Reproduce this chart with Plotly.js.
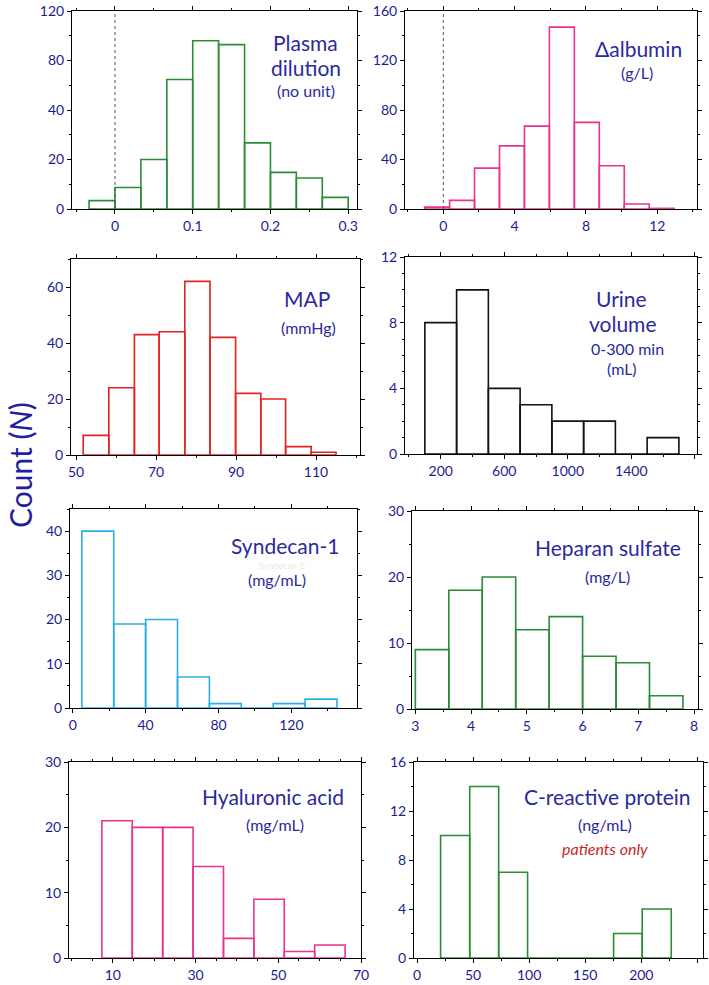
<!DOCTYPE html>
<html><head><meta charset="utf-8">
<script src="https://cdn.plot.ly/plotly-3.0.1.min.js"></script>
<style>html,body{margin:0;padding:0;background:#fff}#chart{width:709px;height:985px}</style>
</head><body><div id="chart"></div>
<script>
// ---------- DATA ----------
const plasmaEdges = [-0.0333, 0, 0.0333, 0.0667, 0.1, 0.1333, 0.1667, 0.2, 0.2333, 0.2667, 0.3];
const plasmaCounts = [3.4, 8.7, 20, 52.3, 68, 66.4, 26.7, 14.8, 12.5, 4.7];
const plasmaYTickVals = [0, 20, 40, 60, 80];
const plasmaYTickText = ['0', '20', '40', '80', '120'];

const albuminEdges = [-1.05, 0.35, 1.75, 3.15, 4.55, 5.95, 7.35, 8.75, 10.15, 11.55, 12.95];
const albuminCounts = [1.5, 7, 33, 51, 67, 147, 70, 35, 4, 0.5];

const mapEdges = [51.8, 58.2, 64.6, 70.8, 77.2, 83.5, 89.9, 96.2, 102.4, 108.8, 115.0];
const mapCounts = [7, 24, 43, 44, 62, 42, 22, 20, 3, 1];

const urineEdges = [100, 300, 500, 700, 900, 1100, 1300, 1500, 1700];
const urineCounts = [8, 10, 4, 3, 2, 2, 0, 1];

const syndecanEdges = [5, 22.5, 40, 57.5, 75, 92.5, 110, 127.5, 145];
const syndecanCounts = [40, 19, 20, 7, 1, 0, 1, 2];

const heparanEdges = [3, 3.6, 4.2, 4.8, 5.4, 6.0, 6.6, 7.2, 7.8];
const heparanCounts = [9, 18, 20, 12, 14, 8, 7, 2];

const hyaluronicEdges = [7.35, 14.7, 22.05, 29.4, 36.75, 44.1, 51.45, 58.8, 66.15];
const hyaluronicCounts = [21, 20, 20, 14, 3, 9, 1, 2];

const crpEdges = [21, 47, 72.8, 98.6, 124.2, 149.8, 175.3, 200.8, 226.7];
const crpCounts = [10, 14, 7, 0, 0, 0, 2, 4];

// ---------- STYLE / LAYOUT ----------
const W = 709, H = 985;
const GREEN = '#2b8c35', PINK = '#e8338f', RED = '#e32222', BLACK = '#111111', CYAN = '#2aaee2';
const TICKBLUE = '#1c1c92', LABELBLUE = '#2a2a9e';
const FONT = 'Lato, "Open Sans", sans-serif';

const panels = [
  {edges: plasmaEdges, counts: plasmaCounts, color: GREEN, box: [72, 11, 356.5, 209],
   xr: [-0.0553, 0.3107], xt: {tick0: 0, dtick: 0.1}, xminor: 0.05,
   yr: [0, 80], yt: {tickmode: 'array', tickvals: plasmaYTickVals, ticktext: plasmaYTickText}, yminor: 10, vline: true},
  {edges: albuminEdges, counts: albuminCounts, color: PINK, box: [405, 11, 697, 209],
   xr: [-2.15, 14.23], xt: {tick0: 0, dtick: 4}, xminor: 2,
   yr: [0, 160], yt: {tick0: 0, dtick: 40}, yminor: 20, vline: true},
  {edges: mapEdges, counts: mapCounts, color: RED, box: [71, 259, 360, 455],
   xr: [48.75, 121], xt: {tick0: 50, dtick: 20}, xminor: 10,
   yr: [0, 70], yt: {tick0: 0, dtick: 20}, yminor: 10},
  {edges: urineEdges, counts: urineCounts, color: BLACK, box: [405, 257, 697, 454],
   xr: [-25, 1814], xt: {tick0: 200, dtick: 400}, xminor: 200,
   yr: [0, 12], yt: {tick0: 0, dtick: 4}, yminor: 1},
  {edges: syndecanEdges, counts: syndecanCounts, color: CYAN, box: [70, 509, 357, 708],
   xr: [-1.5, 156], xt: {tick0: 0, dtick: 40}, xminor: 20,
   yr: [0, 45], yt: {tick0: 0, dtick: 10}, yminor: 5},
  {edges: heparanEdges, counts: heparanCounts, color: GREEN, box: [412, 511, 698, 709],
   xr: [2.94, 8.07], xt: {tick0: 3, dtick: 1}, xminor: 0.5,
   yr: [0, 30], yt: {tick0: 0, dtick: 10}, yminor: 5},
  {edges: hyaluronicEdges, counts: hyaluronicCounts, color: PINK, box: [69, 762, 361, 958],
   xr: [-0.6, 70], xt: {tick0: 10, dtick: 20}, xminor: 5,
   yr: [0, 30], yt: {tick0: 0, dtick: 10}, yminor: 5},
  {edges: crpEdges, counts: crpCounts, color: GREEN, box: [414, 762, 703, 958],
   xr: [-2.7, 255], xt: {tick0: 0, dtick: 50}, xminor: 25,
   yr: [0, 16], yt: {tick0: 0, dtick: 4}, yminor: 2}
];

const labels = [
  {t: 'Plasma', x: 305, y: 42, s: 21},
  {t: 'dilution', x: 306, y: 68, s: 21},
  {t: '(no unit)', x: 306, y: 90, s: 16},
  {t: 'Δalbumin', x: 638, y: 49, s: 21},
  {t: '(g/L)', x: 637, y: 72, s: 16},
  {t: 'MAP', x: 307, y: 299, s: 21},
  {t: '(mmHg)', x: 308, y: 327, s: 16},
  {t: 'Urine', x: 621, y: 299, s: 21},
  {t: 'volume', x: 622, y: 324, s: 21},
  {t: '0-300 min', x: 627, y: 348, s: 16},
  {t: '(mL)', x: 622, y: 369, s: 16},
  {t: 'Syndecan-1', x: 285, y: 545, s: 21},
  {t: 'Syndecan 1-', x: 283, y: 565, s: 9, c: '#f3e8e2'},
  {t: '(mg/mL)', x: 277, y: 579, s: 16},
  {t: 'Heparan sulfate', x: 608, y: 547, s: 21},
  {t: '(mg/L)', x: 607, y: 576, s: 16},
  {t: 'Hyaluronic acid', x: 273, y: 796, s: 21},
  {t: '(mg/mL)', x: 275, y: 824, s: 16},
  {t: 'C-reactive protein', x: 607, y: 796, s: 21},
  {t: '(ng/mL)', x: 605, y: 824, s: 16},
  {t: '<i>patients only</i>', x: 605, y: 848, s: 16, c: '#cc1f1f'}
];

const data = [];
const layout = {
  width: W, height: H, margin: {l: 0, r: 0, t: 0, b: 0},
  paper_bgcolor: '#fff', plot_bgcolor: '#fff', showlegend: false,
  bargap: 0, barmode: 'overlay', annotations: [], shapes: []
};

panels.forEach((p, i) => {
  const n = i + 1;
  const xa = 'x' + (n === 1 ? '' : n), ya = 'y' + (n === 1 ? '' : n);
  const centers = [], widths = [];
  for (let k = 0; k < p.counts.length; k++) {
    centers.push((p.edges[k] + p.edges[k + 1]) / 2);
    widths.push(p.edges[k + 1] - p.edges[k]);
  }
  data.push({
    type: 'bar', x: centers, y: p.counts, width: widths, xaxis: xa, yaxis: ya,
    marker: {color: 'rgba(255,255,255,0)', line: {color: p.color, width: 1.6}},
    hoverinfo: 'x+y'
  });
  const [l, t, r, b] = p.box;
  const common = {
    showline: true, linecolor: '#000', linewidth: 1, mirror: 'allticks',
    ticks: 'outside', ticklen: 4, tickwidth: 1, tickcolor: '#000',
    showgrid: false, zeroline: false, fixedrange: true,
    tickfont: {family: FONT, size: 14, color: TICKBLUE}
  };
  layout['xaxis' + (n === 1 ? '' : n)] = Object.assign({}, common, {
    domain: [l / W, r / W], range: p.xr, anchor: ya, tickmode: 'linear',
    minor: {dtick: p.xminor, ticks: 'outside', ticklen: 2, tickcolor: '#000'}
  }, p.xt);
  layout['yaxis' + (n === 1 ? '' : n)] = Object.assign({}, common, {
    domain: [1 - b / H, 1 - t / H], range: p.yr, anchor: xa, tickmode: 'linear',
    minor: {dtick: p.yminor, ticks: 'outside', ticklen: 2, tickcolor: '#000'}
  }, p.yt);
  if (p.vline) {
    layout.shapes.push({type: 'line', xref: xa, yref: ya + ' domain', x0: 0, x1: 0, y0: 0, y1: 1,
      line: {color: '#555', width: 1, dash: 'dot'}});
  }
});

labels.forEach(a => {
  layout.annotations.push({
    xref: 'paper', yref: 'paper', x: a.x / W, y: 1 - a.y / H, xanchor: 'center', yanchor: 'middle',
    text: a.t, showarrow: false, font: {family: FONT, size: a.s, color: a.c || LABELBLUE}
  });
});

layout.annotations.push({
  xref: 'paper', yref: 'paper', x: 20 / W, y: 1 - 465 / H, xanchor: 'center', yanchor: 'middle',
  text: 'Count (<i>N</i>)', textangle: -90, showarrow: false, borderpad: 0,
  font: {family: FONT, size: 30, color: '#1f1fa0'}
});

Plotly.newPlot('chart', data, layout, {staticPlot: true});
</script></body></html>
